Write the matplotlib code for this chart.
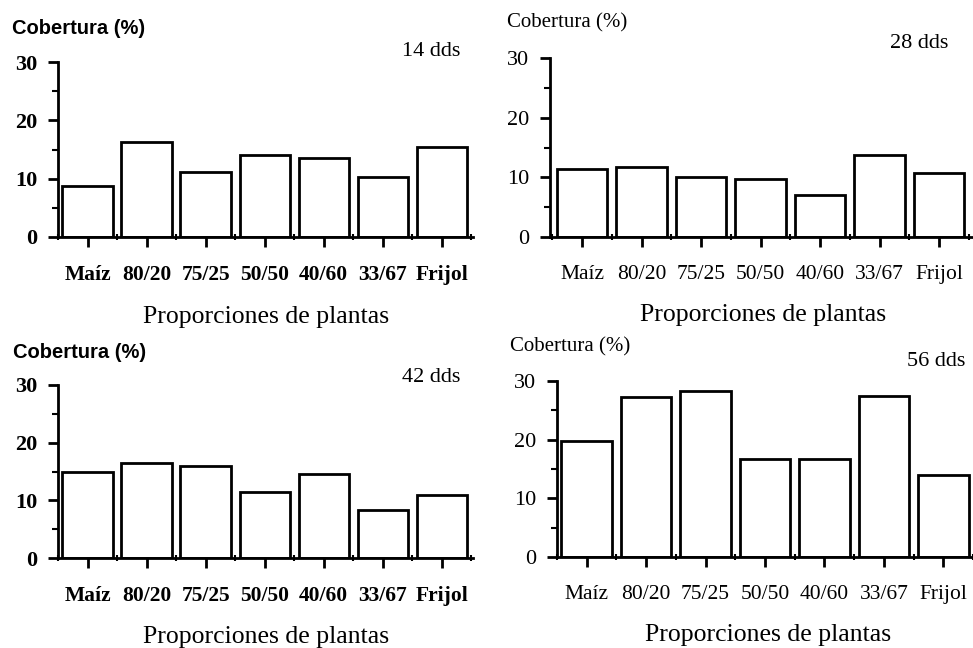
import matplotlib
matplotlib.use("Agg")
import matplotlib.pyplot as plt
import numpy as np

categories = ["Maíz", "80/20", "75/25", "50/50", "40/60", "33/67", "Frijol"]
cob_14 = [8.8, 16.3, 11.2, 14.1, 13.5, 10.3, 15.5]
cob_28 = [11.4, 11.8, 10.0, 9.7, 7.1, 13.8, 10.7]
cob_42 = [15.0, 16.4, 16.0, 11.4, 14.6, 8.3, 11.0]
cob_56 = [19.8, 27.3, 28.3, 16.7, 16.7, 27.5, 14.0]
dds_labels = ["14 dds", "28 dds", "42 dds", "56 dds"]

W, H = 973, 648
SERIF = "Liberation Serif"
SANS = "Liberation Sans"


def fx(x):
    return x / W


def fy(y):
    return 1 - y / H


# (left, top, right, bottom) in pixels, xlim, bold style, label anchors
panels = [
    dict(box=(58, 62, 473, 237), xlim=(-0.49, 6.53), bold=True,
         ylab=(12, 28), dds=(460, 52), xlab=(266, 317)),
    dict(box=(550, 58, 973, 237), xlim=(-0.54, 6.57), bold=False,
         ylab=(507, 23), dds=(948, 43), xlab=(763, 315)),
    dict(box=(58, 385, 473, 558), xlim=(-0.48, 6.53), bold=True,
         ylab=(13, 352), dds=(460, 377), xlab=(266, 637)),
    dict(box=(557, 381, 973, 557), xlim=(-0.49, 6.48), bold=False,
         ylab=(510, 347), dds=(965, 362), xlab=(768, 635)),
]
series = [cob_14, cob_28, cob_42, cob_56]

fig = plt.figure(figsize=(W / 100, H / 100), dpi=100)

for p, vals, dds in zip(panels, series, dds_labels):
    l, t, r, b = p["box"]
    ax = fig.add_axes([fx(l), fy(b), (r - l) / W, (b - t) / H])
    x = np.arange(len(categories))
    ax.bar(x, vals, width=0.85, color="white", edgecolor="black", linewidth=2)
    ax.set_xlim(*p["xlim"])
    ax.set_ylim(0, 30)
    for s in ["top", "right"]:
        ax.spines[s].set_visible(False)
    for s in ["left", "bottom"]:
        ax.spines[s].set_linewidth(2)
    weight = "bold" if p["bold"] else "normal"
    ax.set_yticks([0, 10, 20, 30])
    ax.set_yticks([5, 15, 25], minor=True)
    ax.set_yticklabels(["0", "10", "20", "30"], fontfamily=SERIF,
                       fontweight=weight, fontsize=16)
    ax.set_xticks(x)
    ax.set_xticks(np.arange(-0.5, 6.6, 1.0), minor=True)
    ax.set_xticklabels(categories, fontfamily=SERIF, fontweight=weight,
                       fontsize=15.5)
    ax.tick_params(axis="y", which="major", direction="out", length=7,
                   width=2, pad=8)
    ax.tick_params(axis="y", which="minor", direction="out", length=4,
                   width=1.5)
    ax.tick_params(axis="x", which="major", direction="out", length=7,
                   width=2, pad=13)
    ax.tick_params(axis="x", which="minor", direction="inout", length=5,
                   width=1.5)

    if p["bold"]:
        fig.text(fx(p["ylab"][0]), fy(p["ylab"][1]), "Cobertura (%)",
                 fontfamily=SANS, fontweight="bold", fontsize=14.5,
                 ha="left", va="center")
    else:
        fig.text(fx(p["ylab"][0]), fy(p["ylab"][1]), "Cobertura (%)",
                 fontfamily=SERIF, fontsize=15, ha="left", va="center")
    fig.text(fx(p["dds"][0]), fy(p["dds"][1]), dds, fontfamily=SERIF,
             fontsize=16, ha="right", va="center")
    fig.text(fx(p["xlab"][0]), fy(p["xlab"][1]), "Proporciones de plantas",
             fontfamily=SERIF, fontsize=18.5, ha="center", va="center")

fig.savefig("out.png", dpi=100)
